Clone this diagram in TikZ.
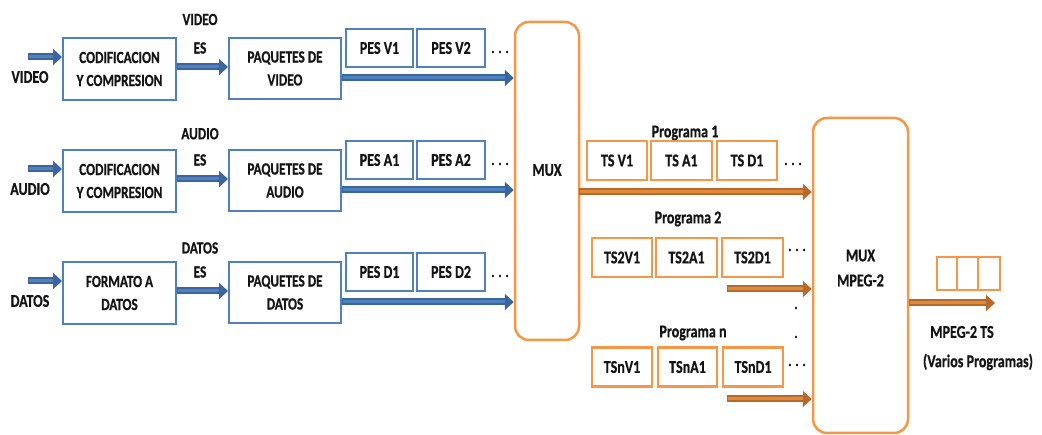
\documentclass[tikz,border=0pt]{standalone}
\usepackage{fontspec}
\setmainfont{Carlito}[FakeStretch=0.78, BoldFeatures={FakeBold=0.6}]
\usetikzlibrary{arrows.meta}
\definecolor{bline}{HTML}{4F81BD}
\definecolor{bdark}{HTML}{3A659E}
\definecolor{oline}{HTML}{F79646}
\definecolor{odark}{HTML}{B56A2C}
\definecolor{omid}{HTML}{E28A3C}
\definecolor{txt}{HTML}{141414}
\tikzset{
  lbl/.style={font=\bfseries\fontsize{17}{23}\selectfont, text=txt, inner sep=0, align=center},
  biglbl/.style={font=\bfseries\fontsize{18}{25}\selectfont, text=txt, inner sep=0, align=center},
  bbox/.style={draw=bline, line width=2pt, fill=white, inner sep=0, lbl},
  pesbox/.style={draw=bline, line width=2pt, inner sep=0, minimum height=38pt, biglbl},
  obox/.style={draw=oline, line width=2.5pt, inner sep=0, minimum height=39pt, minimum width=60pt, biglbl},
  mux/.style={draw=oline, line width=2.5pt, rounded corners=14pt, inner sep=0},
  barrow/.style={draw=bdark, line width=7pt, -{Triangle[length=9pt,width=16pt]},
    postaction={draw=bline, line width=3pt, -, shorten >=9pt, shorten <=0.5pt}},
  oarrow/.style={draw=odark, line width=7pt, -{Triangle[length=9pt,width=16pt]},
    postaction={draw=omid, line width=3pt, -, shorten >=9pt, shorten <=0.5pt}},
  dots/.style={font=\bfseries\fontsize{16}{19}\selectfont, text=txt, inner sep=0},
}
\begin{document}
\begin{tikzpicture}[x=1pt, y=-1pt]
\useasboundingbox (0,0) rectangle (1042,435);

% ---- multiplexers ----
\node[mux, minimum width=64pt, minimum height=318pt] (mux) at (547,181) {};
\node[biglbl] (muxlbl) at (547,170) {MUX};
\node[mux, minimum width=95pt, minimum height=315pt] (mux2) at (860.5,275.5) {};
\node[biglbl] (mux2lbl) at (860.5,268) {MUX\\MPEG-2};

% ---- elementary stream rows ----
\foreach \r/\y/\inp/\enc/\pq/\es/\pa/\pb in {
  1/0/VIDEO/{CODIFICACION\\Y COMPRESION}/{PAQUETES DE\\VIDEO}/VIDEO/V1/V2,
  2/112/AUDIO/{CODIFICACION\\Y COMPRESION}/{PAQUETES DE\\AUDIO}/AUDIO/A1/A2,
  3/224/DATOS/{FORMATO A\\DATOS}/{PAQUETES DE\\DATOS}/DATOS/D1/D2}{
  \node[bbox, minimum width=113pt, minimum height=62pt] (cod\r) at (119.5,69+\y) {\enc};
  \node[bbox, minimum width=112pt, minimum height=61pt] (pq\r) at (285,68.5+\y) {\pq};
  \node[pesbox, minimum width=67pt] (pesa\r) at (379.5,48+\y) {PES \pa};
  \node[pesbox, minimum width=68pt] (pesb\r) at (451,48+\y) {PES \pb};
  \node[dots] (dot\r) at (500,52+\y) {. . .};
  \node[biglbl] (in\r) at (30,77+\y) {\inp};
  \node[lbl] (esname\r) at (200,19.5+1.02*\y) {\es};
  \node[lbl] (es\r) at (200,48+\y) {ES};
  \coordinate (src\r) at (28,57+\y);
  \draw[barrow] (src\r) -- (src\r -| cod\r.west);
  \draw[barrow] ([yshift=2pt]cod\r.east) -- ([yshift=2pt]cod\r.east -| pq\r.west);
  \draw[barrow] ([yshift=-9.5pt]pq\r.east) -- ([yshift=-9.5pt]pq\r.east -| mux.west);
}

% ---- programme 1 ----
\node[biglbl] (p1) at (685,133) {Programa 1};
\node[obox] (tsv1) at (617,160.5) {TS V1};
\node[obox, minimum width=61pt] (tsa1) at (681.5,160.5) {TS A1};
\node[obox] (tsd1) at (747,160.5) {TS D1};
\node[dots] (pd1) at (793,164) {. . .};
\coordinate (p1a) at (579,192);
\draw[oarrow] (p1a) -- (p1a -| mux2.west);

% ---- programme 2 ----
\node[biglbl] (p2) at (688,219) {Programa 2};
\node[obox] (ts2v) at (622,257.5) {TS2V1};
\node[obox, minimum width=61pt] (ts2a) at (686.5,257.5) {TS2A1};
\node[obox, minimum width=61pt] (ts2d) at (752.5,257.5) {TS2D1};
\node[dots] (pd2) at (797,250) {. . .};
\coordinate (p2a) at (727,289);
\draw[oarrow] (p2a) -- (p2a -| mux2.west);

\node[dots] (vd1) at (796,308) {.};
\node[dots] (vd2) at (796,337) {.};

% ---- programme n ----
\node[biglbl] (pn) at (693,333) {Programa n};
\node[obox] (tsnv) at (622,367) {TSnV1};
\node[obox, minimum width=59pt] (tsna) at (687.5,367) {TSnA1};
\node[obox] (tsnd) at (753,367) {TSnD1};
\node[dots] (pdn) at (797,365) {. . .};
\coordinate (pna) at (727,399);
\draw[oarrow] (pna) -- (pna -| mux2.west);

% ---- transport stream output ----
\coordinate (outend) at (995,303);
\draw[oarrow] (outend -| mux2.east) -- (outend);
\node[draw=oline, line width=2.5pt, minimum width=20pt, minimum height=33pt, inner sep=0] (pk1) at (947,273.5) {};
\node[draw=oline, line width=2.5pt, minimum width=21pt, minimum height=33pt, inner sep=0] (pk2) at (967.5,273.5) {};
\node[draw=oline, line width=2.5pt, minimum width=22pt, minimum height=33pt, inner sep=0] (pk3) at (989,273.5) {};
\node[biglbl] (tsl) at (962,332) {MPEG-2 TS};
\node[biglbl] (tsv) at (978,362) {(Varios Programas)};
\end{tikzpicture}
\end{document}
